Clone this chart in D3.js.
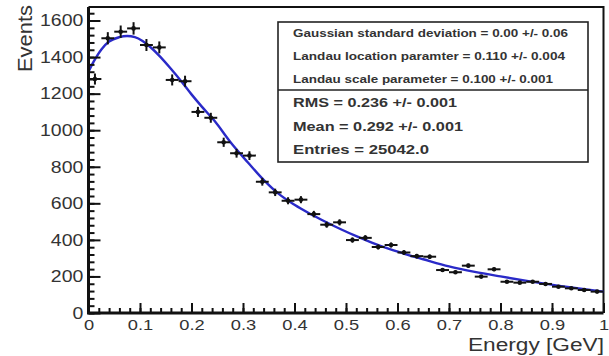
<!DOCTYPE html>
<html><head><meta charset="utf-8">
<script src="https://cdn.jsdelivr.net/npm/d3@7"></script>
<style>html,body{margin:0;padding:0;background:#fff;}svg{display:block;}</style>
</head><body>
<svg id="c" width="609" height="356"></svg>
<script>
// Histogram: 40 bins over 0..1 GeV
const binWidth = 0.025;
const counts = [1280,1503,1539,1557,1466,1453,1275,1268,1100,1068,
                934,874,861,718,660,614,620,541,483,496,
                399,411,361,372,331,311,308,235,223,259,
                199,239,171,166,171,159,144,135,126,117];
// Fit curve
const fitX = [0,0.01,0.025,0.04,0.06,0.075,0.09,0.105,0.12,0.14,0.16,0.18,0.2,0.22,0.245,0.275,0.31,0.34,0.37,0.4,0.43,0.46,0.49,0.52,0.55,0.585,0.62,0.65,0.7,0.75,0.8,0.86,0.93,1.0];
const fitY = [1320,1375,1442,1485,1509,1515,1509,1488,1455,1400,1336,1268,1196,1129,1050,937,822,728,650,592,543,499,458,420,385,349,318,294,255,225,200,172,143,117];
const xTicks = [0,0.1,0.2,0.3,0.4,0.5,0.6,0.7,0.8,0.9,1];
const yTicks = [0,200,400,600,800,1000,1200,1400,1600];
const statsTop = ["Gaussian standard deviation = 0.00 +/- 0.06",
                  "Landau location paramter = 0.110 +/- 0.004",
                  "Landau scale parameter = 0.100 +/- 0.001"];
const statsBottom = ["RMS = 0.236 +/- 0.001","Mean = 0.292 +/- 0.001","Entries = 25042.0"];

const svg = d3.select("#c");
const L = 88.5, R = 603.5, T = 7, B = 313;
const x = d3.scaleLinear().domain([0,1]).range([L,R]);
const y = d3.scaleLinear().domain([0,1674]).range([B,T]);
const font = "'Liberation Sans', Arial, Helvetica, sans-serif";

// frame top/right
svg.append("path").attr("d",`M${L},${T}H${R}V${B}`).attr("fill","none").attr("stroke","#111").attr("stroke-width",2);

// fit curve
const line = d3.line().x((d,i)=>x(fitX[i])).y(d=>y(d)).curve(d3.curveMonotoneX);
svg.append("path").datum(fitY).attr("d",line).attr("fill","none").attr("stroke","#2a2ac8").attr("stroke-width",2.4);

// data points
const pts = svg.append("g").attr("stroke","#111").attr("stroke-width",2);
counts.forEach((c,i)=>{
  const xc = (i+0.5)*binWidth, e = Math.sqrt(c);
  pts.append("line").attr("x1",x(xc-binWidth/2)).attr("x2",x(xc+binWidth/2)).attr("y1",y(c)).attr("y2",y(c));
  pts.append("line").attr("x1",x(xc)).attr("x2",x(xc)).attr("y1",y(c-e)-1).attr("y2",y(c+e)+1);
  pts.append("circle").attr("cx",x(xc)).attr("cy",y(c)).attr("r",2.3).attr("fill","#111").attr("stroke","none");
});

// axes
const sx = 1.18;
const gy = svg.append("g").attr("transform",`translate(${L},0)`);
gy.call(d3.axisLeft(y).tickValues(yTicks).tickSize(-12).tickPadding(4).tickFormat(d3.format("d")));
gy.append("g").call(d3.axisLeft(y).tickValues(d3.range(0,1674,40)).tickSize(-6).tickFormat(""));
gy.selectAll(".domain").remove();
gy.append("line").attr("x1",0).attr("x2",0).attr("y1",T).attr("y2",B+1).attr("stroke","#111").attr("stroke-width",3);
gy.selectAll(".tick line").attr("stroke","#111").attr("stroke-width",2);
gy.selectAll("text").attr("font-family",font).attr("font-size",16.5).attr("fill","#333")
  .attr("transform",`scale(${sx},1)`).attr("x",-4/sx - 1);

const gx = svg.append("g").attr("transform",`translate(0,${B})`);
gx.call(d3.axisBottom(x).tickValues(xTicks).tickSize(-10).tickPadding(6).tickFormat(d=>d===0?"0":d===1?"1":d3.format(".1f")(d)));
gx.append("g").call(d3.axisBottom(x).tickValues(d3.range(0,1.0001,0.02)).tickSize(-5).tickFormat(""));
gx.selectAll(".domain").remove();
gx.append("line").attr("x1",L-1.5).attr("x2",R).attr("y1",0).attr("y2",0).attr("stroke","#111").attr("stroke-width",3);
gx.selectAll(".tick line").attr("stroke","#111").attr("stroke-width",2);
gx.selectAll("text").attr("font-family",font).attr("font-size",15).attr("fill","#333")
  .attr("transform",`scale(1.22,1)`);

// axis titles
svg.append("text").attr("transform",`translate(32,5) rotate(-90)`).attr("text-anchor","end")
  .attr("font-family",font).attr("font-size",19.5).attr("fill","#333").attr("textLength",67).attr("lengthAdjust","spacingAndGlyphs").text("Events");
svg.append("text").attr("x",604).attr("y",351).attr("text-anchor","end")
  .attr("font-family",font).attr("font-size",18).attr("fill","#333").attr("textLength",136).attr("lengthAdjust","spacingAndGlyphs").text("Energy [GeV]");

// stats box
const box = svg.append("g");
box.append("rect").attr("x",278).attr("y",22).attr("width",310).attr("height",140).attr("fill","#fff").attr("stroke","#222").attr("stroke-width",1.6);
box.append("line").attr("x1",278).attr("x2",588).attr("y1",90).attr("y2",90).attr("stroke","#222").attr("stroke-width",1.6);
const topBase = [37,60,83], topLen = [275,272,260];
statsTop.forEach((s,i)=>box.append("text").attr("x",293).attr("y",topBase[i]).attr("font-family",font).attr("font-weight","bold")
  .attr("font-size",10).attr("fill","#333").attr("textLength",topLen[i]).attr("lengthAdjust","spacingAndGlyphs").text(s));
const botBase = [107,131,154], botLen = [164,170,136];
statsBottom.forEach((s,i)=>box.append("text").attr("x",293).attr("y",botBase[i]).attr("font-family",font).attr("font-weight","bold")
  .attr("font-size",13.5).attr("fill","#333").attr("textLength",botLen[i]).attr("lengthAdjust","spacingAndGlyphs").text(s));
</script>
</body></html>
